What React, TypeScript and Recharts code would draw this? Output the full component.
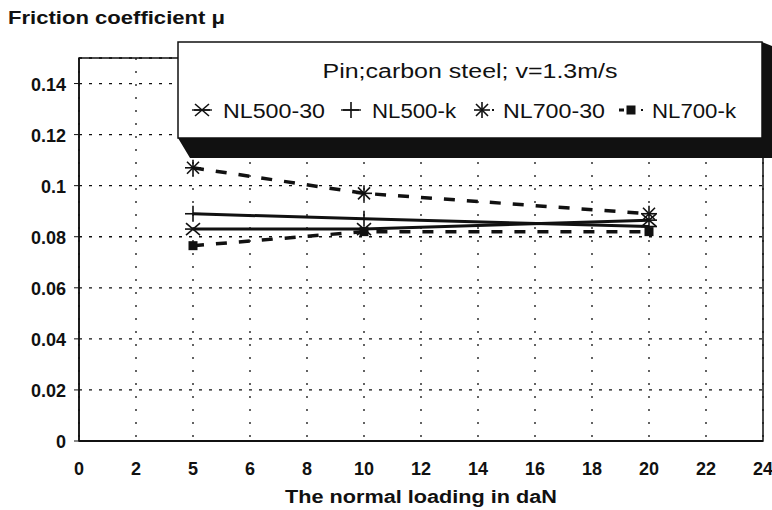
import {
  LineChart,
  Line,
  XAxis,
  YAxis,
  CartesianGrid,
  Legend,
  Label,
  ReferenceArea,
} from "recharts";

const loadCategories = ["0", "2", "5", "6", "8", "10", "12", "14", "16", "18", "20", "22", "24"];
const testedLoads = ["5", "10", "20"];
const nl500_30 = [0.083, 0.083, 0.0865];
const nl500_k = [0.089, 0.087, 0.084];
const nl700_30 = [0.107, 0.097, 0.089];
const nl700_k = [0.0765, 0.082, 0.082];
const yTicks = [0, 0.02, 0.04, 0.06, 0.08, 0.1, 0.12, 0.14];

const INK = "#111";
const FONT = "'Liberation Sans', Arial, sans-serif";

const data = loadCategories.map((load) => {
  const i = testedLoads.indexOf(load);
  return {
    load,
    nl500_30: i >= 0 ? nl500_30[i] : null,
    nl500_k: i >= 0 ? nl500_k[i] : null,
    nl700_30: i >= 0 ? nl700_30[i] : null,
    nl700_k: i >= 0 ? nl700_k[i] : null,
  };
});

type Kind = "xstar" | "plus" | "asterisk" | "square";

const series: { key: string; name: string; kind: Kind; dashed: boolean; textLen: number }[] = [
  { key: "nl500_30", name: "NL500-30", kind: "xstar", dashed: false, textLen: 102 },
  { key: "nl500_k", name: "NL500-k", kind: "plus", dashed: false, textLen: 84 },
  { key: "nl700_30", name: "NL700-30", kind: "asterisk", dashed: true, textLen: 102 },
  { key: "nl700_k", name: "NL700-k", kind: "square", dashed: true, textLen: 84 },
];

function Marker({ kind, cx, cy }: { kind: Kind; cx: number; cy: number }) {
  const s = { stroke: INK, strokeWidth: 1.6, fill: "none" };
  if (kind === "square") {
    return <rect x={cx - 4.5} y={cy - 4.5} width={9} height={9} fill={INK} />;
  }
  if (kind === "plus") {
    return (
      <g {...s}>
        <line x1={cx - 8} y1={cy} x2={cx + 8} y2={cy} />
        <line x1={cx} y1={cy - 8} x2={cx} y2={cy + 8} />
      </g>
    );
  }
  if (kind === "xstar") {
    return (
      <g {...s}>
        <line x1={cx - 8} y1={cy} x2={cx + 8} y2={cy} />
        <line x1={cx - 7} y1={cy - 6} x2={cx + 7} y2={cy + 6} />
        <line x1={cx - 7} y1={cy + 6} x2={cx + 7} y2={cy - 6} />
      </g>
    );
  }
  return (
    <g {...s}>
      <line x1={cx - 8} y1={cy} x2={cx + 8} y2={cy} />
      <line x1={cx} y1={cy - 8} x2={cx} y2={cy + 8} />
      <line x1={cx - 6} y1={cy - 6} x2={cx + 6} y2={cy + 6} />
      <line x1={cx - 6} y1={cy + 6} x2={cx + 6} y2={cy - 6} />
    </g>
  );
}

const dotFor = (kind: Kind) => (props: any) => {
  const { cx, cy, index, value } = props;
  if (cx == null || cy == null || value == null) return <g key={index} />;
  return (
    <g key={index}>
      <Marker kind={kind} cx={cx} cy={cy} />
    </g>
  );
};

function LegendBox() {
  // drawn in its own svg, origin at page (170, 35)
  let cursor = 22;
  const items = series.map((s) => {
    const mx = cursor + 10;
    const tx = cursor + 31;
    cursor = tx + s.textLen + 16;
    return { ...s, mx, tx };
  });
  return (
    <svg width={602} height={130} style={{ overflow: "visible", display: "block" }}>
      <polygon points="8,103 20,123 602,123 602,11 592,7 592,103" fill={INK} />
      <rect x={8} y={7} width={584} height={96} fill="#fff" stroke={INK} strokeWidth={1.5} />
      <text
        x={300}
        y={43}
        textAnchor="middle"
        fontFamily={FONT}
        fontSize={20}
        fill={INK}
        textLength={295}
        lengthAdjust="spacingAndGlyphs"
      >
        Pin;carbon steel; v=1.3m/s
      </text>
      {items.map((it) => (
        <g key={it.key}>
          {it.dashed ? (
            <g fill={INK}>
              {it.kind === "square" && <rect x={it.mx - 12} y={73.5} width={5} height={3} />}
              <rect x={it.mx + 10} y={74} width={2} height={2} />
            </g>
          ) : (
            <line x1={it.mx - 10} y1={75} x2={it.mx + 10} y2={75} stroke={INK} strokeWidth={1.4} />
          )}
          <Marker kind={it.kind} cx={it.mx} cy={75} />
          <text
            x={it.tx}
            y={83}
            fontFamily={FONT}
            fontSize={20}
            fill={INK}
            textLength={it.textLen}
            lengthAdjust="spacingAndGlyphs"
          >
            {it.name}
          </text>
        </g>
      ))}
    </svg>
  );
}

export default function App() {
  return (
    <div style={{ position: "fixed", left: 0, top: 0, width: 772, height: 510, background: "#fff" }}>
      <LineChart
        width={772}
        height={510}
        data={data}
        margin={{ top: 58, right: 9, left: 9, bottom: 29 }}
      >
        <CartesianGrid horizontal={false} stroke={INK} strokeWidth={1.3} strokeDasharray="2 11" />
        <CartesianGrid vertical={false} stroke={INK} strokeWidth={1.3} strokeDasharray="3 7" />
        <XAxis
          dataKey="load"
          type="category"
          ticks={loadCategories}
          interval={0}
          height={40}
          tickLine={false}
          tickSize={0}
          tickMargin={21}
          axisLine={{ stroke: INK, strokeWidth: 2 }}
          tick={{ fill: INK, fontSize: 18, fontWeight: "bold", fontFamily: FONT }}
        >
          <Label
            content={({ viewBox }: any) => (
              <text
                x={viewBox.x + viewBox.width / 2}
                y={503}
                textAnchor="middle"
                fontFamily={FONT}
                fontWeight="bold"
                fontSize={18}
                fill={INK}
                textLength={272}
                lengthAdjust="spacingAndGlyphs"
              >
                The normal loading in daN
              </text>
            )}
          />
        </XAxis>
        <YAxis
          type="number"
          domain={[0, 0.15]}
          ticks={yTicks}
          width={70}
          tickSize={5}
          tickMargin={8}
          tickFormatter={(v: number) => String(Number(v.toFixed(2)))}
          axisLine={{ stroke: INK, strokeWidth: 1.5 }}
          tickLine={{ stroke: INK }}
          tick={{ fill: INK, fontSize: 18, fontWeight: "bold", fontFamily: FONT, dy: 1 }}
        >
          <Label
            content={() => (
              <text
                x={8}
                y={24}
                fontFamily={FONT}
                fontWeight="bold"
                fontSize={18}
                fill={INK}
                textLength={217}
                lengthAdjust="spacingAndGlyphs"
              >
                Friction coefficient μ
              </text>
            )}
          />
        </YAxis>
        <ReferenceArea
          x1="0"
          x2="24"
          y1={0}
          y2={0.15}
          fill="none"
          stroke={INK}
          strokeWidth={1.5}
        />
        {series.map((s) => (
          <Line
            key={s.key}
            dataKey={s.key}
            name={s.name}
            type="linear"
            stroke={INK}
            strokeWidth={s.dashed ? 3.5 : 3}
            strokeDasharray={s.dashed ? "11 12" : undefined}
            connectNulls
            dot={dotFor(s.kind)}
            activeDot={false}
            isAnimationActive={false}
          />
        ))}
        <Legend
          layout="horizontal"
          verticalAlign="middle"
          align="center"
          wrapperStyle={{ left: 170, top: 35, width: 602, height: 130 }}
          content={() => <LegendBox />}
        />
      </LineChart>
    </div>
  );
}
